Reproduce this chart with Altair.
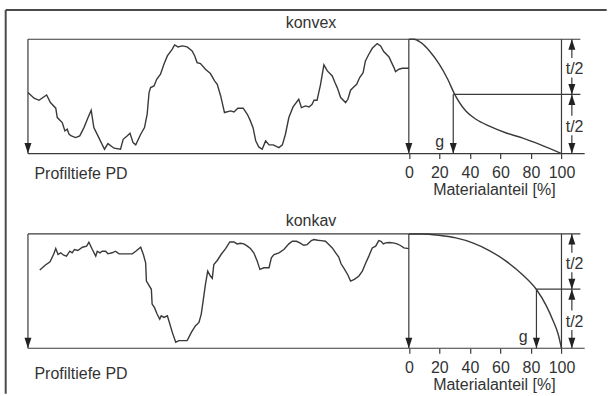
import altair as alt
import pandas as pd

FONT = "Liberation Sans"
INK = "#333333"
LINE = "#3a3a3a"

# ---------------- data ----------------
# convex profile: position along the trace (0-100) and depth below the top line (0 = top, 100 = bottom)
konvex_pos = [0, 1.6, 2.9, 4.9, 5.9, 7.3, 7.7, 9.0, 9.7, 10.3,
              10.8, 11.4, 12.5, 13.6, 14.7, 15.7, 16.6, 17.3, 18.6, 20.1,
              21.0, 22.6, 24.3, 25.0, 26.1, 26.8, 27.6, 28.3, 29.6, 30.6,
              31.3, 31.8, 32.2, 33.1, 33.8, 34.8, 35.7, 36.6, 37.9, 38.5,
              39.4, 40.5, 41.8, 43.1, 43.8, 44.4, 45.3, 46.6, 47.9, 49.0,
              49.7, 50.6, 51.6, 53.2, 54.1, 55.1, 56.5, 57.6, 58.4, 59.1,
              59.8, 60.6, 61.5, 62.4, 63.3, 64.4, 65.9, 66.8, 67.6, 68.5,
              69.6, 71.1, 71.8, 72.9, 73.8, 74.6, 75.1, 75.9, 76.8, 77.7,
              78.6, 79.9, 80.6, 81.2, 82.1, 83.4, 84.0, 84.7, 85.4, 86.3,
              87.1, 88.0, 88.6, 89.5, 90.4, 91.7, 92.6, 93.4, 94.8, 95.6,
              96.1, 96.5, 97.4, 98.3, 100]
konvex_tiefe = [46.6, 51.6, 53.4, 48.7, 55.4, 60.3, 68.5, 72.9, 80.2, 78.7,
                83.1, 84.5, 86.0, 84.5, 77.3, 69.1, 62.1, 77.3, 86.0, 96.2,
                91.3, 95.3, 96.2, 87.5, 84.5, 82.2, 90.4, 92.4, 83.1, 77.3,
                65.6, 46.6, 42.3, 40.8, 35.0, 30.6, 21.9, 14.6, 8.7, 5.0,
                6.7, 5.8, 6.7, 10.2, 14.6, 20.4, 21.3, 26.2, 30.0, 36.4,
                39.4, 49.6, 64.1, 62.7, 63.6, 60.3, 60.3, 65.6, 71.4, 77.3,
                88.9, 94.2, 96.2, 88.9, 92.4, 92.4, 94.8, 92.4, 83.1, 68.5,
                59.2, 52.5, 59.8, 58.3, 59.2, 56.9, 53.4, 53.4, 39.9, 22.4,
                27.7, 32.1, 37.9, 42.3, 51.0, 55.4, 52.5, 44.6, 42.3, 39.4,
                33.5, 29.2, 19.0, 13.1, 7.9, 3.8, 5.8, 10.8, 15.5, 21.3,
                24.8, 28.3, 26.2, 25.4, 25.4]

konkav_pos = [3.1, 4.6, 5.8, 6.8, 7.3, 7.9, 8.6, 9.4, 10.1, 11.0,
              11.6, 12.2, 13.1, 14.3, 15.4, 16.0, 16.9, 17.8, 18.2, 18.9,
              19.5, 20.4, 21.0, 22.1, 23.0, 23.9, 25.2, 26.5, 27.4, 28.3,
              29.6, 30.3, 30.9, 31.1, 32.4, 32.6, 33.2, 33.9, 34.6, 35.0,
              35.7, 36.6, 37.0, 37.9, 38.8, 39.6, 41.8, 42.9, 44.0, 44.9,
              45.5, 46.0, 46.6, 47.2, 47.9, 48.4, 48.8, 49.7, 50.7, 51.9,
              53.0, 54.1, 54.9, 55.8, 56.7, 57.6, 58.4, 59.3, 60.2, 60.9,
              61.9, 63.3, 63.9, 64.6, 65.9, 67.2, 68.5, 69.4, 70.5, 71.4,
              72.4, 73.3, 74.4, 75.1, 76.1, 77.0, 78.1, 79.0, 79.9, 80.8,
              81.6, 82.2, 82.9, 84.0, 84.7, 85.7, 86.9, 87.8, 88.6, 89.5,
              90.4, 91.3, 92.1, 92.7, 93.3, 93.9, 94.8, 95.9, 96.9, 97.8,
              98.7, 100]
konkav_tiefe = [31.6, 27.2, 24.3, 17.4, 12.8, 18.0, 16.5, 18.6, 19.4, 15.1,
                16.5, 13.6, 14.5, 11.6, 10.7, 7.2, 13.6, 19.4, 15.1, 16.5,
                15.1, 15.1, 17.4, 16.5, 15.1, 17.4, 17.4, 17.4, 17.4, 15.1,
                11.6, 18.0, 25.2, 41.2, 48.4, 61.4, 64.3, 70.1, 74.5, 71.6,
                73.0, 71.6, 75.9, 86.1, 94.8, 93.3, 93.3, 86.1, 80.3, 77.4,
                70.1, 58.6, 44.1, 32.5, 36.8, 38.8, 26.7, 23.2, 18.0, 12.8,
                7.0, 7.0, 8.7, 8.1, 8.7, 10.7, 12.8, 16.5, 23.8, 31.0,
                29.6, 29.6, 20.9, 18.0, 16.5, 13.6, 8.7, 6.4, 6.4, 7.8,
                9.9, 9.3, 5.8, 4.9, 5.5, 5.8, 6.4, 9.3, 12.2, 16.5,
                20.3, 26.1, 29.6, 35.9, 41.2, 39.7, 36.8, 32.5, 26.1, 19.4,
                12.2, 10.7, 5.8, 6.4, 8.7, 7.8, 7.5, 7.8, 8.7, 10.1,
                12.2, 12.8]

# material ratio (Abbott) curves: Materialanteil [%] vs depth
konvex_anteil = [0, 3.5, 8, 13.4, 20, 25.5, 29.8, 37.5, 44, 52.8, 63.8, 74.7, 85.7, 100]
konvex_kurve = [0, 0, 3, 10, 22, 35, 47.5, 63, 70, 76, 82, 86.5, 92, 100]
konkav_anteil = [0, 7.7, 19.8, 30.8, 41.8, 52.7, 63.7, 74.7, 83.5, 90.1, 94.5, 97.8, 100]
konkav_kurve = [0, 0, 1.2, 3.5, 7.8, 14.5, 23.8, 35.9, 48.4, 62.9, 75.9, 87.5, 100]

tick_values = [0, 20, 40, 60, 80, 100]
g_konvex = 29.1
g_konkav = 83.6
mitte = 48.3          # t/2 level
pfeil_x = 106.8       # t/2 arrows
oben_ende = 112.4     # end of top line / middle line
unten_ende = 115.2    # end of bottom line

# ---------------- scales ----------------
def xp():
    return alt.Scale(domain=[0, 100], range=[0, 381.5], nice=False, zero=False)

def xm():
    return alt.Scale(domain=[0, 100], range=[381.5, 534.4], nice=False, zero=False)

def ys():
    return alt.Scale(domain=[0, 100], reverse=True, nice=False, zero=False)

DOWN = "M-0.7,-2.1L0.7,-2.1L0,0Z"
UP = "M-0.7,2.1L0.7,2.1L0,0Z"
shape_scale = alt.Scale(domain=["ab", "auf"], range=[DOWN, UP])


def rules(df, xs):
    return alt.Chart(df).mark_rule(color=LINE, strokeWidth=1.2).encode(
        x=alt.X("x:Q", scale=xs, axis=None), x2="x2:Q",
        y=alt.Y("y:Q", scale=ys(), axis=None), y2="y2:Q")


def heads(df, xs):
    return alt.Chart(df).mark_point(filled=True, size=100, opacity=1, color="#222222",
                                     strokeWidth=0).encode(
        x=alt.X("x:Q", scale=xs, axis=None),
        y=alt.Y("y:Q", scale=ys(), axis=None),
        shape=alt.Shape("dir:N", scale=shape_scale, legend=None))


def texts(df, xs, align):
    return alt.Chart(df).mark_text(font=FONT, fontSize=16, color=INK, align=align,
                                   baseline="alphabetic").encode(
        x=alt.X("x:Q", scale=xs, axis=None),
        y=alt.Y("y:Q", scale=ys(), axis=None),
        text="t:N")


def make_row(pos, tiefe, anteil, kurve, g, title, title_y, pd_y, g_x, frame=False):
    prof = pd.DataFrame({"pos": pos, "tiefe": tiefe})
    curve = pd.DataFrame({"anteil": anteil, "tiefe": kurve})

    seg_p = pd.DataFrame({"x": [0, 0, 0], "x2": [100, 100, 0],
                          "y": [0, 100, 0], "y2": [0, 100, 100]})
    seg_m = pd.DataFrame({
        "x": [0, 0, 0, 100, g, g, pfeil_x, pfeil_x, pfeil_x, pfeil_x],
        "x2": [oben_ende, unten_ende, 0, 100, oben_ende, g, pfeil_x, pfeil_x, pfeil_x, pfeil_x],
        "y": [0, 100, 0, 0, mitte, mitte, 0, 33.5, mitte, 84.0],
        "y2": [0, 100, 100, 100, mitte, 100, 16.5, mitte, 67.0, 100],
    })
    heads_p = pd.DataFrame({"x": [0], "y": [100], "dir": ["ab"]})
    heads_m = pd.DataFrame({"x": [0, g, pfeil_x, pfeil_x, pfeil_x, pfeil_x],
                            "y": [100, 100, 0, mitte, mitte, 100],
                            "dir": ["ab", "ab", "auf", "ab", "auf", "ab"]})
    txt_title = pd.DataFrame({"x": [74.3], "y": [title_y], "t": [title]})
    txt_pd = pd.DataFrame({"x": [1.7], "y": [pd_y], "t": ["Profiltiefe PD"]})
    txt_m = pd.DataFrame({"x": [102.8, 102.8], "y": [30.8, 81.3], "t": ["t/2", "t/2"]})
    txt_g = pd.DataFrame({"x": [g_x], "y": [94.5], "t": ["g"]})

    profile = alt.Chart(prof).mark_line(color=LINE, strokeWidth=1.4).encode(
        x=alt.X("pos:Q", scale=xp(), axis=None),
        y=alt.Y("tiefe:Q", scale=ys(), axis=None))

    abbott = alt.Chart(curve).mark_line(color=LINE, strokeWidth=1.4, interpolate="monotone").encode(
        x=alt.X("anteil:Q", scale=xm(),
                axis=alt.Axis(values=tick_values, format="d", domain=False, grid=False,
                              tickSize=5, tickColor=LINE, tickWidth=1.2,
                              labelFont=FONT, labelFontSize=16, labelColor=INK,
                              labelPadding=6, labelFlush=False, labelOverlap=False,
                              title="Materialanteil [%]", titleFont=FONT, titleFontSize=16,
                              titleFontWeight="normal", titleColor=INK,
                              titleX=466.7, titleY=41, titleAlign="center",
                              titleBaseline="alphabetic")),
        y=alt.Y("tiefe:Q", scale=ys(), axis=None))

    layers = []
    if frame:
        one = pd.DataFrame({"k": [0]})
        layers.append(alt.Chart(one).mark_rule(color="#4a4a4a", strokeWidth=2).encode(
            x=alt.value(-22.3), y=alt.value(-29.3), y2=alt.value(355)))
        layers.append(alt.Chart(one).mark_rule(color="#4a4a4a", strokeWidth=2).encode(
            x=alt.value(-22.3), x2=alt.value(579.7), y=alt.value(-29.3)))
    layers += [
        rules(seg_p, xp()),
        rules(seg_m, xm()),
        profile,
        abbott,
        heads(heads_p, xp()),
        heads(heads_m, xm()),
        texts(txt_title, xp(), "center"),
        texts(txt_pd, xp(), "left"),
        texts(txt_m, xm(), "left"),
        texts(txt_g, xm(), "center"),
    ]
    return alt.layer(*layers).resolve_scale(x="independent").properties(width=558, height=114.5)


row1 = make_row(konvex_pos, konvex_tiefe, konvex_anteil, konvex_kurve, g_konvex,
                "konvex", -10.1, 122.3, 20.2, frame=True)
row2 = make_row(konkav_pos, konkav_tiefe, konkav_anteil, konkav_kurve, g_konkav,
                "konkav", -6.7, 127.2, 74.9)

chart = alt.vconcat(row1, row2, spacing=80, bounds="flush").properties(
    padding={"left": 4, "top": 8, "right": 0, "bottom": 0},
    background="white",
).configure_view(stroke=None)

chart.save("out.html", embed_options={"renderer": "svg", "actions": False})
